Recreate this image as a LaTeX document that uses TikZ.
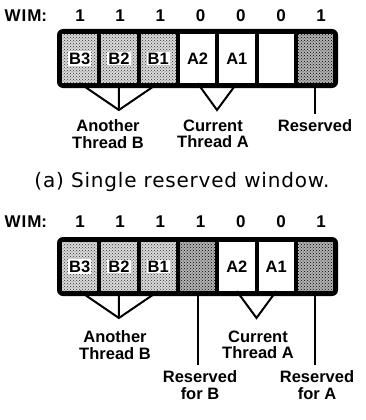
\documentclass[tikz,border=0pt]{standalone}
\usepackage{fontspec}
\setmainfont{Liberation Sans}
\newfontfamily\capfont[LetterSpace=4]{DejaVu Sans}
\usetikzlibrary{patterns}
\tikzset{
  frame/.style={fill=black, rounded corners=6pt, minimum width=281pt, minimum height=59pt, inner sep=0pt},
  win/.style={minimum width=35.3pt, minimum height=49pt, inner sep=0pt, fill=white},
  bwin/.style={win, fill=gray!30, postaction={pattern=crosshatch dots, pattern color=black!80}},
  rwin/.style={win, fill=gray!60, postaction={pattern=crosshatch dots, pattern color=black}},
  tag/.style={fill=white, inner sep=1.2pt, font=\fontsize{16.5}{16.5}\selectfont\bfseries},
  bit/.style={font=\fontsize{17}{17}\selectfont\bfseries},
  lbl/.style={font=\fontsize{16.5}{16.5}\selectfont\bfseries, align=center},
  tie/.style={line width=2pt},
}
\begin{document}
\begin{tikzpicture}[x=1pt,y=-1pt]
  \useasboundingbox (0,0) rectangle (365,420);
  % (a) one reserved window
  \node[bit, anchor=west] (wimA) at (1,16) {W\kern1ptI\kern1ptM:};
  \foreach \b [count=\i from 0] in {1,1,1,0,0,0,1}
    \node[bit] (bitA\i) at ({80+40.2*\i},16) {\b};
  \node[frame] (boxA) at (197.5,58.5) {};
  \foreach \s [count=\i from 0] in {bwin,bwin,bwin,win,win,win,rwin}
    \node[\s] (winA\i) at ({79.65+39.3*\i},58.5) {};
  \foreach \t/\i in {B3/0,B2/1,B1/2,A2/3,A1/4}
    \node[tag] (tagA\i) at (winA\i) {\t};
  \node[lbl] (anotherA) at (108,134) {Another\\Thread B};
  \node[lbl] (currentA) at (213,134) {Current\\Thread A};
  \node[lbl] (reservedA) at (315,126) {Reserved};
  \coordinate (joinBA) at (118.9,110);
  \coordinate (joinAA) at (217,110);
  \draw[tie] (winA0.south) -- (joinBA) -- (winA2.south);
  \draw[tie] (winA1.south) -- (joinBA);
  \draw[tie] (winA3.south) -- (joinAA) -- (winA4.south);
  \draw[tie, shorten >=2pt] (winA6.south) -- (reservedA.north -| winA6.south);
  \node[font=\capfont\fontsize{20}{20}\selectfont] (capA) at (182,182) {(a) Single reserved window.};
  % (b) one reserved window per thread
  \node[bit, anchor=west] (wimB) at (1,222) {W\kern1ptI\kern1ptM:};
  \foreach \b [count=\i from 0] in {1,1,1,1,0,0,1}
    \node[bit] (bitB\i) at ({80+40.2*\i},222) {\b};
  \node[frame] (boxB) at (197.5,266.5) {};
  \foreach \s [count=\i from 0] in {bwin,bwin,bwin,rwin,win,win,rwin}
    \node[\s] (winB\i) at ({79.65+39.3*\i},266.5) {};
  \foreach \t/\i in {B3/0,B2/1,B1/2,A2/4,A1/5}
    \node[tag] (tagB\i) at (winB\i) {\t};
  \node[lbl] (anotherB) at (115,345) {Another\\Thread B};
  \node[lbl] (currentB) at (258,345) {Current\\Thread A};
  \node[lbl] (resvB) at (200,385) {Reserved\\for B};
  \node[lbl] (resvA) at (317,385) {Reserved\\for A};
  \coordinate (joinBB) at (118.9,318);
  \coordinate (joinAB) at (256.5,318);
  \draw[tie] (winB0.south) -- (joinBB) -- (winB2.south);
  \draw[tie] (winB1.south) -- (joinBB);
  \draw[tie] (winB4.south) -- (joinAB) -- (winB5.south);
  \draw[tie, shorten >=2pt] (winB3.south) -- (resvB.north -| winB3.south);
  \draw[tie, shorten >=2pt] (winB6.south) -- (resvA.north -| winB6.south);
\end{tikzpicture}
\end{document}
